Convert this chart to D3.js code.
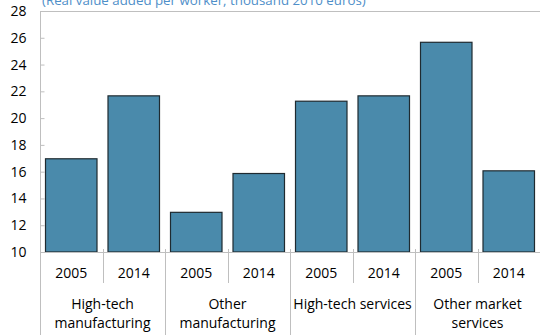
<!DOCTYPE html>
<html>
<head>
<meta charset="utf-8">
<script src="https://cdn.jsdelivr.net/npm/d3@7"></script>
<style>
  html, body { margin: 0; padding: 0; background: #fff; }
  svg { display: block; font-family: "Open Sans", "Noto Sans", sans-serif; }
</style>
</head>
<body>
<svg id="chart" width="540" height="335"></svg>
<script>
// Sectors and years
const groups = ["High-tech manufacturing", "Other manufacturing", "High-tech services", "Other market services"];
const groupLines = [["High-tech", "manufacturing"], ["Other", "manufacturing"], ["High-tech services"], ["Other market", "services"]];
const years = ["2005", "2014"];
// Real value added per worker (thousand 2010 euros), per sector: [2005, 2014]
const values2005 = [17.0, 13.0, 21.3, 25.7];
const values2014 = [21.7, 15.9, 21.7, 16.1];
const yTicks = [10, 12, 14, 16, 18, 20, 22, 24, 26, 28];
const title = "(Real value added per worker, thousand 2010 euros)";

const rows = [];
groups.forEach((g, i) => {
  rows.push({ key: g + "|2005", group: g, year: years[0], value: values2005[i] });
  rows.push({ key: g + "|2014", group: g, year: years[1], value: values2014[i] });
});

const svg = d3.select("#chart");
const plotL = 40, plotR = 540, plotT = 11, plotB = 252;
const axisColor = "#bfbfbf";
const labelSize = 14;

const x = d3.scaleBand().domain(rows.map(d => d.key)).range([plotL, plotR]).paddingInner(0.16).paddingOuter(0.08);
const y = d3.scaleLinear().domain([10, 28]).range([plotB, plotT]);
const bandStart = i => plotL + i * (plotR - plotL) / rows.length;

// Title
svg.append("text")
  .attr("x", 42).attr("y", 5)
  .attr("fill", "#4f8fc9")
  .attr("font-size", 13.3)
  .text(title);

// Frame: left axis and top border
svg.append("line").attr("x1", plotL + 0.5).attr("x2", plotL + 0.5).attr("y1", plotT).attr("y2", 335).attr("stroke", axisColor);
svg.append("line").attr("x1", plotL).attr("x2", plotR).attr("y1", plotT + 0.5).attr("y2", plotT + 0.5).attr("stroke", axisColor);

// Y axis
const yAxis = d3.axisRight(y).tickValues(yTicks).tickSize(4).tickFormat(d3.format("d"));
const gy = svg.append("g").attr("transform", `translate(${plotL + 0.5},0)`).call(yAxis);
gy.select(".domain").remove();
gy.selectAll(".tick line").attr("stroke", axisColor);
gy.selectAll(".tick text")
  .attr("x", -14).attr("text-anchor", "end")
  .attr("font-size", labelSize).attr("fill", "#000")
  .attr("font-family", "'Open Sans', sans-serif");

// Bars
svg.append("g").selectAll("rect").data(rows).join("rect")
  .attr("x", d => x(d.key) + 0.5)
  .attr("y", d => y(d.value) + 0.5)
  .attr("width", x.bandwidth() - 1)
  .attr("height", d => y(10) - y(d.value) - 0.5)
  .attr("fill", "#4a8aab")
  .attr("stroke", "#1f2a30")
  .attr("stroke-width", 1.2);

// X axis baseline
svg.append("line").attr("x1", plotL).attr("x2", plotR).attr("y1", plotB + 0.5).attr("y2", plotB + 0.5).attr("stroke", axisColor);

// Separators: short between years, full-height between sectors
for (let i = 1; i < rows.length; i++) {
  const xs = Math.round(bandStart(i)) + 0.5;
  const full = i % 2 === 0;
  svg.append("line").attr("x1", xs).attr("x2", xs)
    .attr("y1", plotB - 3).attr("y2", full ? 335 : 283)
    .attr("stroke", axisColor);
}

// Year labels
svg.append("g").selectAll("text").data(rows).join("text")
  .attr("x", d => x(d.key) + x.bandwidth() / 2)
  .attr("y", 278)
  .attr("text-anchor", "middle")
  .attr("font-size", labelSize)
  .text(d => d.year);

// Sector labels
groups.forEach((g, i) => {
  const cx = bandStart(i * 2 + 1);
  const t = svg.append("text").attr("text-anchor", "middle").attr("font-size", labelSize);
  groupLines[i].forEach((ln, j) => {
    t.append("tspan").attr("x", cx).attr("y", 309 + j * 19).text(ln);
  });
});
</script>
</body>
</html>
